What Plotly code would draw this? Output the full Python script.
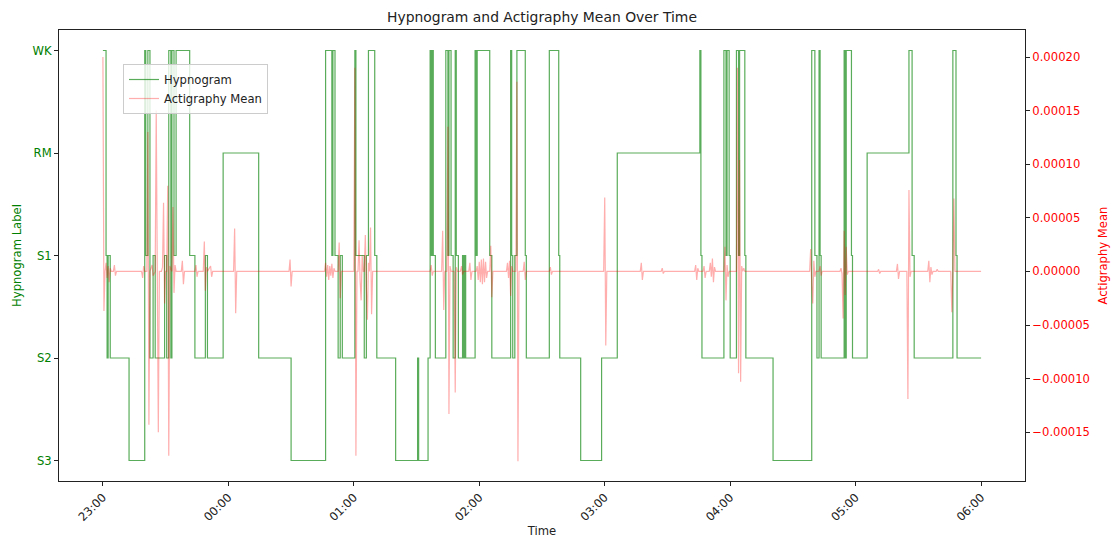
import pandas as pd
import plotly.graph_objects as go

# ---------------- data ----------------
stage_order = ["S3", "S2", "S1", "RM", "WK"]

# hypnogram transitions: minutes after 23:00 and the stage entered
hyp_minutes = [0, 1.5, 2, 2.5, 3.5, 12.5, 20, 20.5, 21.5, 22.5, 24, 25, 29.5, 30.5,
               31.5, 32.5, 33, 34, 35, 41.5, 44, 49, 50, 57.5, 74.5, 90, 106.5,
               109.5, 110, 111, 112.5, 113.5, 114.5, 120.5, 121, 125, 126, 127, 130,
               131, 140, 150.5, 151, 155.5, 156.5, 157, 157.5, 158, 159, 164, 165,
               165.5, 166.5, 167.5, 168.5, 169, 170, 172, 172.5, 173, 173.5, 178,
               178.5, 179, 185, 186, 195, 195.5, 196, 197, 198, 202, 202.5, 213.5,
               218, 218.5, 228.5, 238.5, 246, 285.5, 286, 286.5, 297, 298, 298.5,
               299.5, 300, 303, 304, 304.5, 307, 307.5, 320.5, 339, 340.5, 341.5,
               342.5, 343, 343.5, 354.5, 355, 355.5, 358, 358.5, 365.5, 385.5, 387,
               388, 406.5, 408, 408.5, 420]
hyp_stages = ["WK", "S1", "S2", "S1", "S2", "S3", "WK", "S1", "WK", "S2", "S1", "S2", "S1", "S2",
              "WK", "S2", "WK", "S1", "WK", "S1", "S2", "S1", "S2", "RM", "S2", "S3", "WK",
              "S1", "WK", "S1", "S2", "S1", "S2", "WK", "S1", "S2", "S1", "WK", "S1",
              "S2", "S3", "S2", "S3", "S2", "WK", "S1", "WK", "S1", "S2", "WK", "S1",
              "WK", "S1", "S2", "WK", "S1", "S2", "S1", "S2", "S1", "S2", "WK",
              "S1", "WK", "S1", "S2", "WK", "S1", "S2", "S1", "WK", "S1", "S2", "WK",
              "S1", "S2", "S3", "S2", "RM", "WK", "S1", "S2", "WK", "S1", "WK",
              "S1", "S2", "WK", "S1", "WK", "S1", "S2", "S3", "WK", "S1", "S2",
              "WK", "S1", "S2", "WK", "S2", "WK", "S1", "S2", "RM", "WK", "S1",
              "S2", "WK", "S1", "S2", "S2"]

# actigraphy mean: minutes after 23:00 and value
act_minutes = [0, 0.5, 1.0, 1.5, 2.0, 2.5, 3.0, 3.5, 4.0, 5.0, 5.5, 6.0, 6.5,
               18.5, 19, 19.5, 20, 21, 21.5, 22, 22.5, 23.5, 24, 25, 25.5, 26.5, 27,
               28, 28.5, 29, 29.5, 30, 30.5, 31, 31.5, 32, 33, 33.5, 34, 34.5, 35, 37.5, 38, 38.5, 39,
               44, 44.5, 45, 45.5, 48, 48.5, 49, 49.5, 50, 51.5, 52, 52.5, 62.5, 63, 63.5, 64,
               89, 89.5, 90, 90.5, 106, 106.5, 107, 107.5, 108, 108.5, 109, 109.5, 110, 110.5,
               111, 112.5, 113, 113.5, 114, 120, 120.5, 121, 121.5, 122, 122.5, 123, 123.5, 124, 124.5,
               125, 125.5, 126, 126.5, 127, 127.5, 128, 128.5, 129,
               156.5, 157, 157.5, 158, 162, 162.5, 163, 163.5, 164.5, 165, 165.5, 166, 166.5,
               168, 168.5, 169, 169.5, 171, 171.5, 172, 172.5, 175, 175.5, 176, 176.5,
               178.5, 179, 179.5, 180, 180.5, 181, 181.5, 182, 182.5, 183, 183.5, 184,
               185, 185.5, 186, 186.5, 193, 193.5, 194, 194.5, 195, 195.5, 196, 197.5, 198, 198.5, 199,
               201, 201.5, 202, 202.5, 213.5, 214, 214.5, 215, 239.5, 240, 240.5, 241,
               257, 257.5, 258, 258.5, 267, 267.5, 268, 268.5,
               283, 283.5, 284, 284.5, 285, 287, 287.5, 288, 288.5, 290, 290.5, 291, 291.5,
               292, 292.5, 293, 297, 297.5, 298, 298.5, 299, 299.5,
               303, 303.5, 304, 304.5, 305, 305.5, 306, 306.5, 307,
               338, 338.5, 339, 339.5, 340, 340.5, 341, 342.5, 343, 343.5, 344,
               352.5, 353, 353.5, 354, 354.5, 355, 355.5, 356, 356.5,
               370.5, 371, 371.5, 372, 379.5, 380, 380.5, 381, 384.5, 385, 385.5, 386, 386.5,
               394.5, 395, 395.5, 396, 396.5, 397, 398.5, 399, 399.5,
               405.5, 406, 406.5, 407, 407.5, 420]
act_values = [20e-5, -3.7e-5, 0, 0.8e-5, -0.6e-5, 0.5e-5, -1.0e-5, 0.3e-5, 0, 0, 0.6e-5, -0.4e-5, 0,
              0, -0.6e-5, 0.5e-5, 0, 0, 13e-5, -14.3e-5, 0, 0.6e-5, -0.4e-5, 0, 15e-5, -15e-5, 0,
              0, 0.4e-5, 6.4e-5, -3e-5, 0, 0, 8e-5, -17.2e-5, 0.5e-5, 0, 6e-5, -2e-5, 0.6e-5, 0, 0, 1e-5, -1.2e-5, 0,
              0, 0.6e-5, -0.5e-5, 0, 0, 2.8e-5, -1.8e-5, 0.4e-5, 0, 0.5e-5, -0.5e-5, 0, 0, 4e-5, -3.9e-5, 0,
              0, 1.1e-5, -1.4e-5, 0, 0, 0.8e-5, -0.5e-5, 0.6e-5, -0.8e-5, 0.5e-5, -0.4e-5, 0.7e-5, -0.6e-5, 0.3e-5,
              0, 0, 2.7e-5, -2.5e-5, 0, 0, 19e-5, -17.2e-5, 0, 0, 2.9e-5, -0.8e-5, -2.7e-5, 1.5e-5, 0,
              0, 3.4e-5, -1.5e-5, -4.5e-5, 0.8e-5, 0, 4.1e-5, -4e-5, 0,
              0, 0.6e-5, -0.4e-5, 0, 0, 3.8e-5, -3.6e-5, 0, 0, 13.5e-5, -13.3e-5, 0.5e-5, 0,
              0, -11.3e-5, 0.4e-5, 0, 0, 0.5e-5, -0.3e-5, 0, 0, 0.8e-5, -0.8e-5, 0,
              0, 0.5e-5, -0.8e-5, 0.9e-5, -1.0e-5, 1.1e-5, -1.2e-5, 1.2e-5, -1.0e-5, 0.9e-5, -0.6e-5, 0,
              0, 2.4e-5, -2.4e-5, 0, 0, 0.8e-5, -0.6e-5, 1.0e-5, -2.3e-5, 0.5e-5, 0, 0, 17.7e-5, -17.7e-5, 0,
              0, 0.9e-5, -0.8e-5, 0, 0, 0.4e-5, -0.3e-5, 0, 0, 6.9e-5, -6.9e-5, 0,
              0, 0.8e-5, -0.8e-5, 0, 0, 0.3e-5, -0.2e-5, 0,
              0, 0.6e-5, -0.8e-5, 0.3e-5, 0, 0, 0.5e-5, -0.6e-5, 0, 0, 0.8e-5, -0.5e-5, 1.2e-5,
              -1.0e-5, 0.4e-5, 0, 0, 2.3e-5, -2.7e-5, 0.6e-5, -0.5e-5, 0,
              0, 19e-5, -9.5e-5, 10.4e-5, -10.3e-5, 0.5e-5, 0, 0.3e-5, 0,
              0, 2.1e-5, -1.2e-5, -3e-5, 1e-5, -0.5e-5, 0, 0, 0.5e-5, -0.4e-5, 0,
              0, 0.3e-5, -0.2e-5, -4.4e-5, 3.8e-5, -2.2e-5, 2.3e-5, -0.3e-5, 0,
              0, 0.2e-5, -0.2e-5, 0, 0, 0.7e-5, -0.7e-5, 0, 0, -11.9e-5, 7.6e-5, -0.5e-5, 0,
              0, 1.0e-5, -1.0e-5, 0.4e-5, -0.3e-5, 0, 0, 0.2e-5, 0,
              0, -3.8e-5, 0, 6.8e-5, 0, 0]

x_tick_minutes = [0, 60, 120, 180, 240, 300, 360, 420]
x_tick_labels = ["23:00", "00:00", "01:00", "02:00", "03:00", "04:00", "05:00", "06:00"]
y2_tick_values = [-15e-5, -10e-5, -5e-5, 0, 5e-5, 10e-5, 15e-5, 20e-5]
y2_tick_labels = ["\u22120.00015", "\u22120.00010", "\u22120.00005", "0.00000",
                  "0.00005", "0.00010", "0.00015", "0.00020"]

# ---------------- figure ----------------
base = pd.Timestamp("2024-01-01 23:00:00")


def to_time(mins):
    return list(base + pd.to_timedelta(mins, unit="m"))


level = {s: i for i, s in enumerate(stage_order)}
FONT = "DejaVu Sans"

fig = go.Figure()
fig.add_trace(go.Scatter(
    x=to_time(hyp_minutes), y=[level[s] for s in hyp_stages],
    mode="lines", line=dict(color="rgba(0,128,0,0.65)", width=1.2, shape="hv"),
    name="Hypnogram"))
fig.add_trace(go.Scatter(
    x=to_time(act_minutes), y=act_values, yaxis="y2",
    mode="lines", line=dict(color="rgba(255,0,0,0.32)", width=1.2),
    name="Actigraphy Mean"))

axis_common = dict(showgrid=False, zeroline=False, showline=True, linecolor="#222",
                   linewidth=1, ticks="outside", ticklen=4, tickcolor="#222",
                   automargin=False)

fig.update_layout(
    width=1113, height=538,
    margin=dict(l=59, r=88, t=30, b=57),
    paper_bgcolor="white", plot_bgcolor="white",
    font=dict(family=FONT, size=11.6, color="#222"),
    title=dict(text="Hypnogram and Actigraphy Mean Over Time", x=0.5, xref="paper",
               y=1 - 17 / 538, yanchor="middle", font=dict(size=13.9, color="#222")),
    xaxis=dict(**axis_common, mirror=True, type="date",
               range=[to_time([-21])[0], to_time([441])[0]],
               tickvals=to_time(x_tick_minutes), ticktext=x_tick_labels,
               tickangle=-45, tickfont=dict(size=11.6, color="#222"),
               title=dict(text="Time", font=dict(size=11.6), standoff=12)),
    yaxis=dict(**axis_common, mirror=True, range=[-0.2, 4.2],
               tickvals=list(range(len(stage_order))), ticktext=stage_order,
               tickfont=dict(size=11.6, color="#008000"),
               title=dict(text="Hypnogram Label", font=dict(size=11.6, color="#008000"),
                          standoff=8)),
    yaxis2=dict(**axis_common, overlaying="y", side="right",
                range=[-1.955e-4, 2.252e-4],
                tickvals=y2_tick_values, ticktext=y2_tick_labels,
                tickfont=dict(size=11.6, color="#ff0000"),
                title=dict(text="Actigraphy Mean", font=dict(size=11.6, color="#ff0000"),
                           standoff=9)),
    legend=dict(x=(123 - 59) / 966, y=(481 - 64) / 451, xanchor="left", yanchor="top",
                bgcolor="rgba(255,255,255,0.8)", bordercolor="#cccccc", borderwidth=1,
                font=dict(size=11.6, color="#222"), tracegroupgap=0),
    showlegend=True,
)

fig.write_html("out.html")
